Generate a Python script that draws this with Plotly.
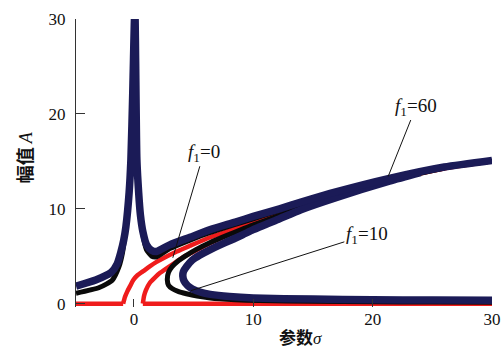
import plotly.graph_objects as go

# ---- data ----
# f1 = 0 (red): trivial solution segments and two non-trivial branches
red_zero_a_x = [-4.85, -0.9]
red_zero_a_y = [0, 0]
red_zero_b_x = [0.75, 30]
red_zero_b_y = [0, 0]
red_left_x = [-0.9, -0.75, -0.55, -0.3, -0.05, 0.3, 0.75, 1.3, 1.9, 2.7, 3.6, 4.7, 6.4, 8.5, 10.0, 12.2, 14, 17, 21.4, 26, 30]
red_left_y = [0, 0.7, 1.3, 1.9, 2.5, 3.0, 3.4, 3.9, 4.4, 4.95, 5.5, 6.1, 7.0, 7.9, 8.6, 9.55, 10.3, 11.5, 13.0, 14.3, 15.0]
red_right_x = [0.75, 0.85, 1.0, 1.34, 1.8, 2.2, 3.3, 4.4, 5.2, 6.4, 7.8, 9.1, 10.0, 12.2, 14, 17, 21.4, 26, 30]
red_right_y = [0, 0.8, 1.4, 2.2, 2.8, 3.25, 4.2, 5.1, 5.6, 6.4, 7.2, 7.85, 8.25, 9.25, 10.1, 11.4, 12.95, 14.25, 15.0]

# f1 = 10 (black)
black_main_x = [-4.85, -2.9, -1.8, -1.25, -0.95, -0.67, -0.4, -0.25, -0.1, 0.08, 0.25, 0.4, 0.55, 0.75, 1.05, 1.5, 1.9, 3.0, 4.7, 6.4, 8.5, 10.0, 12.2, 14, 17, 21.4, 26, 30]
black_main_y = [1.1, 1.7, 2.5, 3.9, 5.4, 8.1, 11.7, 15.2, 22, 31, 15.2, 11.7, 9.3, 7.3, 5.7, 5.0, 4.95, 5.8, 6.7, 7.5, 8.35, 8.95, 9.8, 10.5, 11.65, 13.1, 14.35, 15.05]
black_loop_x = [26, 21.4, 17, 14, 12.2, 10.0, 9.1, 7.8, 6.4, 5.2, 4.4, 3.7, 3.2, 2.9, 2.8, 2.9, 3.2, 3.7, 4.4, 5.3, 6.4, 8.5, 10.5, 15, 20, 25, 30]
black_loop_y = [14.3, 13.0, 11.4, 10.15, 9.3, 8.3, 7.85, 7.2, 6.45, 5.7, 5.1, 4.5, 3.9, 3.3, 2.5, 1.95, 1.6, 1.3, 1.05, 0.8, 0.6, 0.42, 0.33, 0.25, 0.2, 0.17, 0.15]

# f1 = 60 (navy)
blue_main_x = [-4.85, -3.2, -1.9, -1.4, -1.1, -0.85, -0.67, -0.4, -0.25, -0.1, 0.08, 0.25, 0.4, 0.55, 0.75, 1.06, 1.5, 1.9, 3.0, 4.7, 6.4, 8.5, 10.0, 12.2, 14, 17, 21.4, 26, 30]
blue_main_y = [1.85, 2.5, 3.3, 4.2, 5.4, 6.7, 8.1, 11.7, 15.2, 22, 31, 15.2, 11.7, 9.3, 7.6, 6.2, 5.6, 5.5, 6.2, 7.0, 7.8, 8.6, 9.2, 10.0, 10.7, 11.8, 13.2, 14.4, 15.1]
blue_loop_x = [24, 21.4, 17, 14, 12.2, 10.0, 9.1, 7.6, 6.4, 5.5, 4.9, 4.4, 4.15, 4.1, 4.2, 4.5, 4.9, 5.6, 6.4, 8.0, 10.0, 15, 20, 25, 30]
blue_loop_y = [13.8, 12.9, 11.2, 9.9, 8.95, 7.8, 7.25, 6.4, 5.7, 5.1, 4.6, 3.9, 3.4, 2.9, 2.4, 1.9, 1.55, 1.2, 0.98, 0.75, 0.6, 0.48, 0.42, 0.38, 0.35]

tick_vals = [0, 10, 20, 30]
tick_text = ["0", "10", "20", "30"]

RED = "#ef1c1c"
BLACK = "#0a0a0a"
NAVY = "#1b1b57"

fig = go.Figure()

def add_line(x, y, color, width):
    fig.add_trace(go.Scatter(x=x, y=y, mode="lines", line=dict(color=color, width=width, shape="spline", smoothing=0.6),
                             hoverinfo="skip", showlegend=False))

add_line(red_zero_a_x, red_zero_a_y, RED, 4.5)
add_line(red_zero_b_x, red_zero_b_y, RED, 4.5)
add_line(red_right_x, red_right_y, RED, 4.5)
add_line(red_left_x, red_left_y, RED, 4.5)
add_line(black_loop_x, black_loop_y, BLACK, 5)
add_line(black_main_x, black_main_y, BLACK, 5)
add_line(blue_loop_x, blue_loop_y, NAVY, 7.5)
add_line(blue_main_x, blue_main_y, NAVY, 7.5)

serif = "Liberation Serif, Times New Roman, serif"
cjk = "Noto Sans CJK SC, sans-serif"

fig.update_layout(
    width=502, height=346, autosize=False,
    margin=dict(l=76, r=10, t=19, b=39, autoexpand=False),
    paper_bgcolor="white", plot_bgcolor="white",
    xaxis=dict(range=[-4.85, 30], tickvals=tick_vals, ticktext=tick_text, showgrid=False, zeroline=False,
               showline=False, ticks="inside", ticklen=8, tickcolor="#333", tickwidth=1, automargin=False,
               tickfont=dict(family=serif, size=17, color="#111"), layer="above traces"),
    yaxis=dict(range=[-0.35, 30], tickvals=tick_vals, ticktext=tick_text, showgrid=False, zeroline=False,
               showline=True, linecolor="#333", linewidth=1, ticks="inside", ticklen=9, tickcolor="#333",
               automargin=False, tickfont=dict(family=serif, size=17, color="#111"), ticklabelstandoff=6),
)

ann_font = dict(family=serif, size=19, color="#111")
fig.add_annotation(x=3.26, y=4.84, ax=31, ay=-105, text="<i>f</i><sub>1</sub>=0", showarrow=True,
                   arrowhead=0, arrowwidth=1, arrowcolor="#111", standoff=0, font=ann_font)
fig.add_annotation(x=4.77, y=1.37, ax=176, ay=-56, text="<i>f</i><sub>1</sub>=10", showarrow=True,
                   arrowhead=0, arrowwidth=1, arrowcolor="#111", standoff=0, font=ann_font)
fig.add_annotation(x=21.3, y=13.4, ax=28, ay=-70, text="<i>f</i><sub>1</sub>=60", showarrow=True,
                   arrowhead=0, arrowwidth=1, arrowcolor="#111", standoff=0, font=ann_font)

# axis titles
fig.add_annotation(xref="paper", yref="paper", x=-0.125, y=0.52, xanchor="center", yanchor="middle",
                   text="<b>幅值</b> <span style='font-family:Liberation Serif'><i>A</i></span>",
                   textangle=-90, showarrow=False, font=dict(family=cjk, size=18, color="#111"))
fig.add_annotation(xref="paper", yref="paper", x=0.54, y=-0.103, xanchor="center", yanchor="middle",
                   text="<b>参数</b><span style='font-family:Liberation Serif'><i>σ</i></span>",
                   showarrow=False, font=dict(family=cjk, size=17, color="#111"))

fig.write_html("out.html", config={"displayModeBar": False, "responsive": False},
               post_script="document.body.style.margin='0px';document.body.style.overflow='hidden';")
